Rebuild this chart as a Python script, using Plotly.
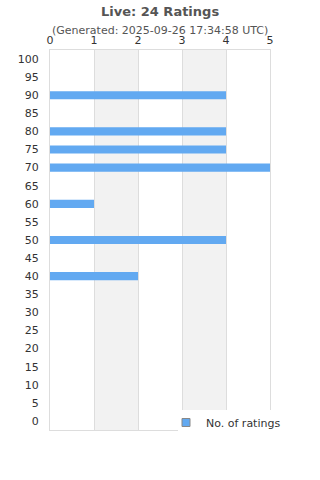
import plotly.graph_objects as go

categories = [str(v) for v in range(0, 101, 5)]
ratings = {"90": 4, "80": 4, "75": 4, "70": 5, "60": 1, "50": 4, "40": 2}
counts = [ratings.get(c, 0) for c in categories]
x_ticks = [0, 1, 2, 3, 4, 5]

title = "Live: 24 Ratings"
subtitle = "(Generated: 2025-09-26 17:34:58 UTC)"
series_name = "No. of ratings"

FONT = "DejaVu Sans"
BAR = "#62a9f1"
fig = go.Figure()
fig.add_trace(go.Bar(
    y=categories, x=counts, orientation="h", name=series_name,
    marker=dict(color=BAR, line=dict(width=0)),
    showlegend=False,
))
fig.add_trace(go.Scatter(
    x=[None], y=[None], mode="markers", name=series_name,
    marker=dict(symbol="square", size=8, color=BAR, line=dict(color="#888888", width=1)),
    showlegend=True, hoverinfo="skip",
))

shapes = []
for a in (1, 3):
    shapes.append(dict(type="rect", xref="x", yref="paper", x0=a, x1=a + 1, y0=0, y1=1,
                       fillcolor="#f2f2f2", line=dict(width=0), layer="below"))
shapes.append(dict(type="rect", xref="paper", yref="paper", x0=(178 - 50) / 220, x1=272 / 220,
                   y0=-45 / 380, y1=(430 - 410) / 380, fillcolor="white",
                   line=dict(width=0), layer="above"))

fig.update_layout(
    width=320, height=480,
    margin=dict(l=50, r=50, t=50, b=50),
    paper_bgcolor="white", plot_bgcolor="white",
    font=dict(family=FONT, size=11, color="#333333"),
    bargap=0.55,
    shapes=shapes,
    showlegend=True,
    legend=dict(x=(166 - 50) / 220, y=(430 - 408) / 380, xanchor="left", yanchor="top",
                bgcolor="rgba(0,0,0,0)", font=dict(size=11, color="#333333", family=FONT),
                itemwidth=30, tracegroupgap=0),
    annotations=[
        dict(text="<b>" + title + "</b>", x=(160 - 50) / 220, xref="paper", yref="paper",
             y=(430 - 11) / 380, xanchor="center", yanchor="middle", showarrow=False,
             font=dict(size=13, color="#555555", family=FONT)),
        dict(text=subtitle, x=(160 - 50) / 220, xref="paper", yref="paper",
             y=(430 - 30) / 380, xanchor="center", yanchor="middle", showarrow=False,
             font=dict(size=11, color="#555555", family=FONT)),
    ],
)
fig.update_xaxes(
    side="top", range=[0, 5], tickvals=x_ticks, ticktext=[str(t) for t in x_ticks],
    showgrid=True, gridcolor="#dddddd", gridwidth=1, zeroline=False,
    showline=True, linecolor="#dddddd", mirror=True, ticks="", fixedrange=True,
    tickfont=dict(size=11, color="#333333"), ticklabelstandoff=1,
)
fig.update_yaxes(
    type="category", categoryorder="array", categoryarray=categories,
    showgrid=False, showline=True, linecolor="#dddddd", mirror=True, ticks="",
    ticklabelstandoff=8, tickfont=dict(size=11, color="#333333"),
)
fig.write_html("out.html")
